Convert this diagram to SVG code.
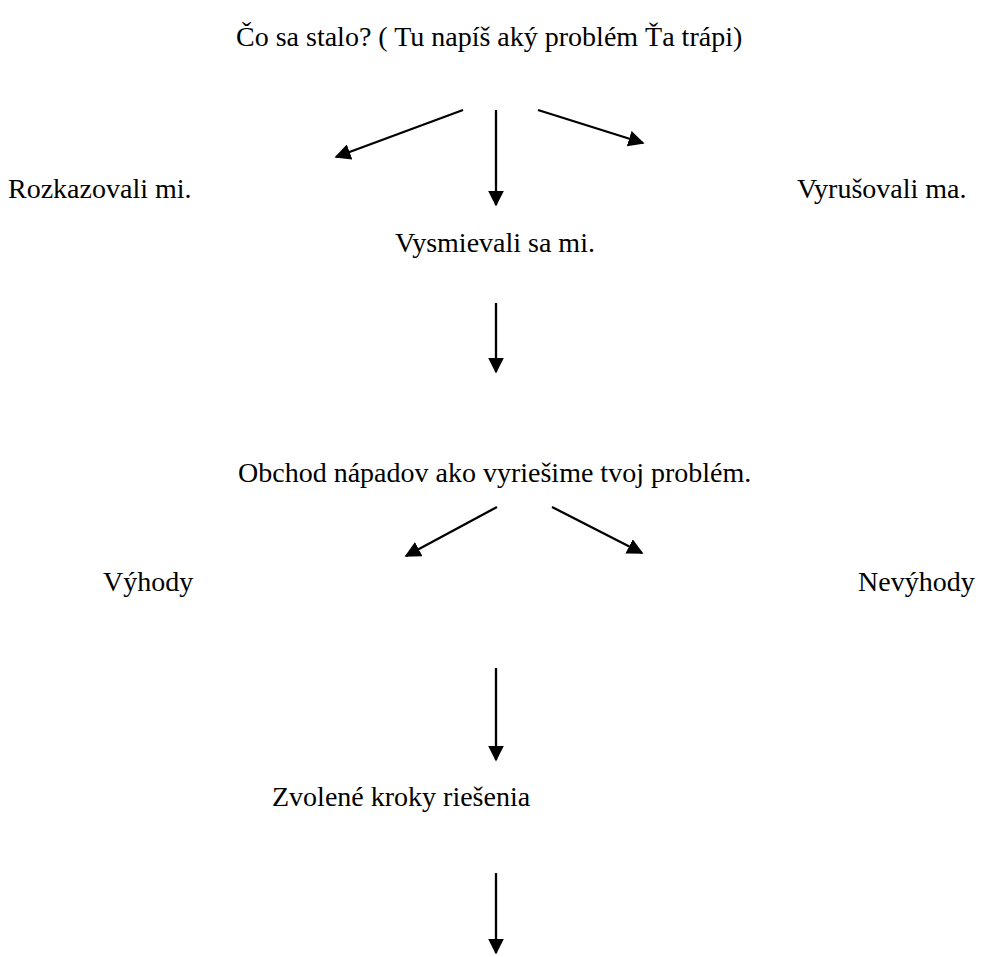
<svg xmlns="http://www.w3.org/2000/svg" width="1003" height="957" viewBox="0 0 1003 957">
<defs>
<style>
text{font-family:"Liberation Serif","Times New Roman",serif;font-size:28px;fill:#000}
.mid{text-anchor:middle}
.c line{stroke:#000;stroke-width:2.3}
</style>
<marker id="ah" viewBox="0 0 10 10" refX="9" refY="5" markerWidth="7" markerHeight="7" markerUnits="strokeWidth" orient="auto">
<path d="M0,0 L10,5 L0,10 z" fill="#000"/>
</marker>
</defs>
<rect width="1003" height="957" fill="#fff"/>
<g id="n-title"><text x="236" y="46">Čo sa stalo? ( Tu napíš aký problém Ťa trápi)</text></g>
<g id="n-rozkazovali"><text x="8" y="198">Rozkazovali mi.</text></g>
<g id="n-vyrusovali"><text x="797" y="198">Vyrušovali ma.</text></g>
<g id="n-vysmievali"><text class="mid" x="495" y="252">Vysmievali sa mi.</text></g>
<g id="n-obchod"><text x="238" y="482">Obchod nápadov ako vyriešime tvoj problém.</text></g>
<g id="n-vyhody"><text x="103" y="591">Výhody</text></g>
<g id="n-nevyhody"><text x="858" y="591">Nevýhody</text></g>
<g id="n-zvolene"><text x="272" y="806">Zvolené kroky riešenia</text></g>
<g id="connectors" class="c">
<line x1="463" y1="110" x2="336" y2="157" marker-end="url(#ah)"/>
<line x1="496" y1="110" x2="496" y2="205" marker-end="url(#ah)"/>
<line x1="538" y1="110" x2="643" y2="143" marker-end="url(#ah)"/>
<line x1="496" y1="303" x2="496" y2="372" marker-end="url(#ah)"/>
<line x1="497" y1="507" x2="406" y2="556" marker-end="url(#ah)"/>
<line x1="552" y1="507" x2="642" y2="553" marker-end="url(#ah)"/>
<line x1="496" y1="668" x2="496" y2="760" marker-end="url(#ah)"/>
<line x1="496" y1="873" x2="496" y2="953" marker-end="url(#ah)"/>
</g>
</svg>
